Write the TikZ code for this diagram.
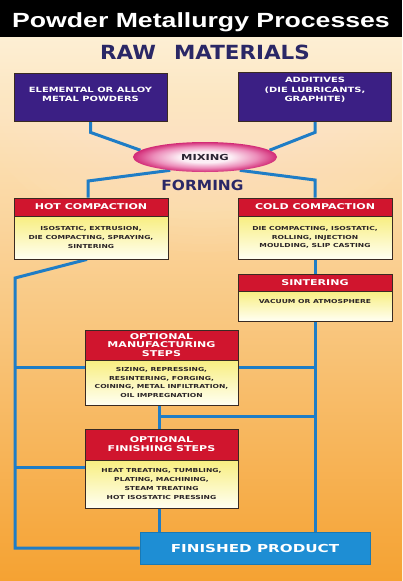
\documentclass[tikz,border=0pt]{standalone}
\usepackage{fontspec}
\setmainfont{Liberation Sans}
\newfontfamily\titlefont{Liberation Sans}[FakeStretch=1.3]
\newfontfamily\boxfont{DejaVu Sans}[FakeStretch=1.38]
\newfontfamily\headfont{DejaVu Sans}[FakeStretch=1.1]
\usetikzlibrary{shapes.geometric}

\definecolor{bgtop}{HTML}{FDEFD4}
\definecolor{bgmid}{HTML}{F9CA86}
\definecolor{bgbot}{HTML}{F5A232}
\definecolor{navy}{HTML}{2A2766}
\definecolor{rawpurple}{HTML}{3B1F84}
\definecolor{hdred}{HTML}{D0152E}
\definecolor{bodyyellow}{HTML}{F8EE80}
\definecolor{bodywhite}{HTML}{FFFFF2}
\definecolor{flow}{HTML}{1F7DC6}
\definecolor{finblue}{HTML}{1E8ED4}
\definecolor{edge}{HTML}{3A2A22}
\definecolor{mixrim}{HTML}{D22A76}
\definecolor{mixmid}{HTML}{EC8DBA}
\definecolor{mixcore}{HTML}{FCEEF5}
\definecolor{inktext}{HTML}{2A2426}

% pale centre that turns magenta towards the rim
\pgfdeclareradialshading{mixglow}{\pgfpoint{0bp}{0bp}}{%
  color(0bp)=(mixcore); color(9bp)=(mixcore); color(18bp)=(mixmid);
  color(25bp)=(mixrim); color(50bp)=(mixrim)}

\pgfdeclarelayer{bg}
\pgfsetlayers{bg,main}

\tikzset{
  boxedge/.style={draw=edge, line width=0.8pt, rectangle, inner sep=0pt, align=center},
  rawbox/.style={boxedge, fill=rawpurple, text=white,
    font=\boxfont\bfseries\fontsize{7.2}{9.4}\selectfont, minimum width=153pt},
  hdbox/.style={boxedge, fill=hdred, text=white,
    font=\boxfont\bfseries\fontsize{8}{8.9}\selectfont, minimum width=154pt},
  bodybox/.style={boxedge, top color=bodyyellow, bottom color=bodywhite, text=inktext,
    font=\boxfont\bfseries\fontsize{5.5}{8.8}\selectfont, minimum width=154pt},
  heading/.style={text=navy, font=\headfont\bfseries\fontsize{#1}{#1}\selectfont, anchor=base},
  conn/.style={draw=flow, line width=3pt},
}

\begin{document}
\begin{tikzpicture}[x=1pt, y=-1pt]
\useasboundingbox (0,0) rectangle (402,581);

% raw materials
\node[rawbox, minimum height=48pt, text depth=5pt] (lp) at (90.5,97) {ELEMENTAL OR ALLOY\\METAL POWDERS};
\node[rawbox, minimum height=49pt, text depth=14pt] (rp) at (315,96.5) {ADDITIVES\\(DIE LUBRICANTS,\\GRAPHITE)};

% mixing
\node[ellipse, minimum width=144pt, minimum height=30pt, inner sep=0pt,
      shading=mixglow, text=inktext!80!navy,
      font=\boxfont\bfseries\fontsize{8.3}{9}\selectfont] (mix) at (205,157) {MIXING};

% headings
\node[heading=19.5] (raw) at (205,59) {RAW\hspace{18pt}MATERIALS};
\node[heading=14] (forming) at (202.5,190) {FORMING};

% compaction
\node[hdbox, minimum height=18pt] (hotH) at (91,207) {HOT COMPACTION};
\node[bodybox, minimum height=43pt] (hotB) at (91,237.5)
  {ISOSTATIC, EXTRUSION,\\DIE COMPACTING, SPRAYING,\\SINTERING};
\node[hdbox, minimum height=18pt] (coldH) at (315,207) {COLD COMPACTION};
\node[bodybox, minimum height=43pt] (coldB) at (315,237.5)
  {DIE COMPACTING, ISOSTATIC,\\ROLLING, INJECTION\\MOULDING, SLIP CASTING};

% sintering
\node[hdbox, minimum height=17pt] (sinH) at (315,282.5) {SINTERING};
\node[bodybox, minimum height=30pt, text height=4pt, text depth=9pt] (sinB) at (315,306)
  {VACUUM OR ATMOSPHERE};

% optional manufacturing steps
\node[hdbox, minimum width=153pt, minimum height=30pt] (manH) at (161.5,345)
  {OPTIONAL\\MANUFACTURING\\STEPS};
\node[bodybox, minimum width=153pt, minimum height=45pt] (manB) at (161.5,382.5)
  {SIZING, REPRESSING,\\RESINTERING, FORGING,\\COINING, METAL INFILTRATION,\\OIL IMPREGNATION};

% optional finishing steps
\node[hdbox, minimum width=153pt, minimum height=31pt] (finH) at (161.5,444.5)
  {OPTIONAL\\FINISHING STEPS};
\node[bodybox, minimum width=153pt, minimum height=48pt] (finB) at (161.5,484)
  {HEAT TREATING, TUMBLING,\\PLATING, MACHINING,\\STEAM TREATING\\HOT ISOSTATIC PRESSING};

% finished product
\node[rectangle, draw=finblue!85!black, line width=0.6pt, fill=finblue, text=white,
      minimum width=230pt, minimum height=32pt, inner sep=0pt,
      font=\boxfont\bfseries\fontsize{11}{12}\selectfont] (fin) at (255,548) {FINISHED PRODUCT};

% title band
\fill[black] (0,0) rectangle (402,37);
\node[text=white, anchor=base, font=\titlefont\bfseries\fontsize{20.5}{24}\selectfont]
  (title) at (201,27) {Powder Metallurgy Processes};

% bend points of the flow lines
\coordinate (hotin) at (88,181);
\coordinate (coldin) at (315,180);
\coordinate (railtop) at (15,278);
\coordinate (manjoin) at (15,367);
\coordinate (finjoin) at (15,467);
\coordinate (midjoin) at (159,416);

\begin{pgfonlayer}{bg}
  % background wash
  \fill[top color=bgtop, middle color=bgmid, bottom color=bgbot] (0,37) rectangle (402,581);
  \begin{scope}
    \clip (0,37) rectangle (402,581);
    \foreach \i in {1,...,24}
      \fill[bgtop, opacity=0.05] (205,60) ellipse ({\i*10} and {\i*8});
  \end{scope}

  % flow lines
  \draw[conn] (lp.south) -- ++(0,11) -- (mix.174);
  \draw[conn] (rp.south) -- ++(0,11) -- (mix.6);
  \draw[conn] (mix.201) -- (hotin) -- (hotin |- hotH.north);
  \draw[conn] (mix.339) -- (coldin) -- (coldH.north);
  \draw[conn] (coldB.south) -- (sinH.north);
  \draw[conn] (sinB.south) -- (sinB.south |- fin.north);
  \draw[conn] ([xshift=-4pt]hotB.south) -- (railtop) -- (railtop |- fin.west) -- (fin.west);
  \draw[conn] (manjoin) -- (manjoin -| manB.west);
  \draw[conn] (manjoin -| manB.east) -- (manjoin -| sinB.south);
  \draw[conn] (finjoin) -- (finjoin -| finB.west);
  \draw[conn] ([xshift=-2.5pt]manB.south) -- ([xshift=-2.5pt]finH.north);
  \draw[conn] (midjoin) -- (midjoin -| sinB.south);
  \draw[conn] ([xshift=-2.5pt]finB.south) -- ([xshift=-2.5pt]finB.south |- fin.north);
\end{pgfonlayer}
\end{tikzpicture}
\end{document}
